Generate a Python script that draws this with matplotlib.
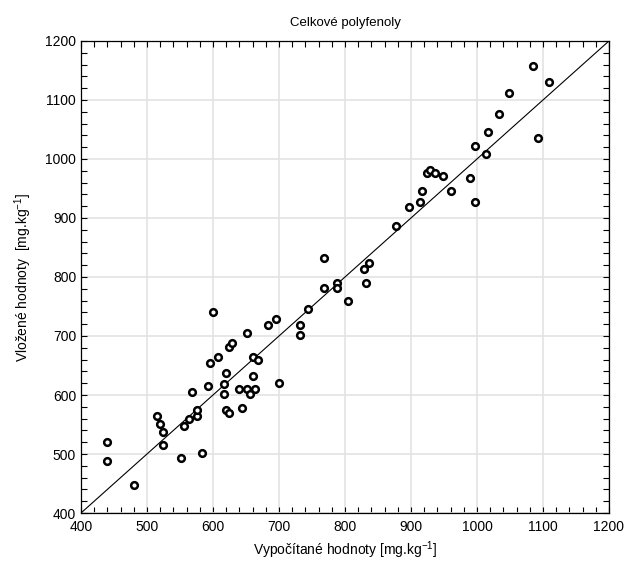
import numpy as np
import matplotlib as mpl
mpl.use('Agg')
import matplotlib.pyplot as plt
from matplotlib.ticker import MultipleLocator

# vypocitane (x) a vlozene (y) hodnoty
x_calc = [440, 440, 480, 515, 520, 524, 524, 552, 556, 564, 576, 576, 568, 584,
          592, 616, 616, 620, 624, 640, 644, 652, 656, 664, 700, 600, 652, 684,
          696, 624, 629, 608, 596, 660, 668, 620, 660, 768, 788, 788, 832, 805,
          744, 732, 732, 877, 768, 836, 829, 897, 913, 917, 924, 929, 937, 949,
          961, 989, 997, 997, 1013, 1016, 1033, 1049, 1085, 1109, 1093]
y_meas = [520, 488, 447, 565, 551, 538, 515, 493, 547, 560, 565, 574, 605, 502,
          615, 619, 601, 574, 570, 610, 578, 610, 601, 610, 620, 741, 705, 719,
          728, 682, 688, 664, 655, 664, 660, 637, 633, 782, 790, 782, 790, 760,
          746, 719, 701, 886, 832, 823, 814, 918, 927, 945, 977, 981, 977, 972,
          945, 968, 927, 1022, 1008, 1045, 1076, 1112, 1158, 1130, 1036]
lims = [400, 1200]

plt.rcParams['font.family'] = ['Liberation Sans', 'DejaVu Sans']
plt.rcParams['mathtext.default'] = 'regular'

fig = plt.figure(figsize=(6.26, 5.63), dpi=100)
ax = fig.add_axes([0.1294, 0.0888, 0.8434, 0.8384])

ax.plot(lims, lims, '-', color='k', linewidth=0.8, zorder=2)
ax.plot(x_calc, y_meas, 'o', markerfacecolor='white', markeredgecolor='k',
        markersize=4.8, markeredgewidth=1.8, zorder=3)

ax.set_xlim(lims)
ax.set_ylim(lims)
ax.xaxis.set_major_locator(MultipleLocator(100))
ax.yaxis.set_major_locator(MultipleLocator(100))
ax.xaxis.set_minor_locator(MultipleLocator(20))
ax.yaxis.set_minor_locator(MultipleLocator(20))
ax.tick_params(which='both', direction='in', top=True, right=True,
               length=4, width=0.8, labelsize=10)
ax.tick_params(axis='x', pad=5)
ax.grid(True, which='major', color='#e3e3e3', linewidth=1.2, zorder=0)
ax.set_axisbelow(True)
for s in ax.spines.values():
    s.set_linewidth(0.9)

ax.set_title('Celkové polyfenoly', fontsize=9.5, pad=11)
ax.set_xlabel('Vypočítané hodnoty [mg.kg$^{-1}$]', fontsize=10, labelpad=4)
ax.set_ylabel('Vložené hodnoty  [mg.kg$^{-1}$]', fontsize=10, labelpad=8)

fig.savefig('out.png', dpi=100)
